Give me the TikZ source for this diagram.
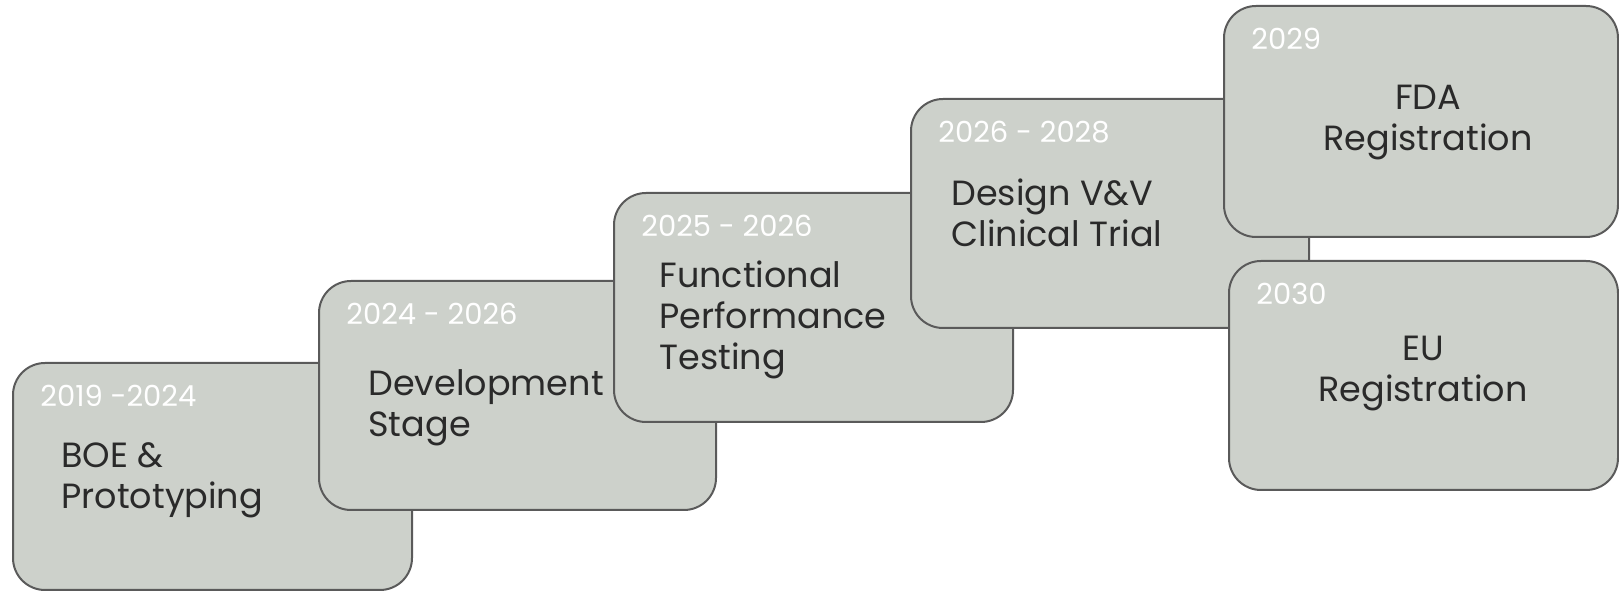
\documentclass[tikz,border=0pt]{standalone}
\usepackage{fontspec}
\setmainfont{Poppins}
\usetikzlibrary{positioning, calc}
\definecolor{boxgray}{HTML}{CDD1CB}
\definecolor{edgegray}{HTML}{5A5A5A}
\definecolor{textdark}{HTML}{2A2A2A}
\tikzset{x=0.5pt, y=-0.5pt, % one unit = one pixel of the layout
        phase/.style={ % the rounded boxes of the time line
            draw=edgegray,
            line width=1pt,
            fill=boxgray,
            rounded corners=16pt,
            anchor=north west,
            inner sep=0pt},
        year/.style={ % white year label in the corner
            text=white,
            font=\fontsize{14.5pt}{17pt}\selectfont,
            anchor=base west,
            inner sep=0pt},
        stage/.style={ % name of the stage (base = last line)
            text=textdark,
            font=\fontsize{17.5pt}{20.5pt}\selectfont,
            align=left,
            anchor=base west,
            inner sep=0pt}
        }

\begin{document}
\begin{tikzpicture}
    \useasboundingbox (0,0) rectangle (1619,592);

    \node[phase, minimum width=199.5pt, minimum height=113.5pt] (b1) at (12,362) {};
    \node[year] (y1) at ([shift={(28,45)}]b1.north west) {2019 -2024};
    \node[stage] (s1) at ([shift={(49,147)}]b1.north west) {BOE \&\\Prototyping};

    \node[phase, minimum width=198.5pt, minimum height=114.5pt] (b2) at (318,280) {};
    \node[year] (y2) at ([shift={(28,45)}]b2.north west) {2024 - 2026};
    \node[stage] (s2) at ([shift={(50,157)}]b2.north west) {Development\\Stage};

    \node[phase, minimum width=199.5pt, minimum height=114.5pt] (b3) at (613,192) {};
    \node[year] (y3) at ([shift={(28,45)}]b3.north west) {2025 - 2026};
    \node[stage] (s3) at ([shift={(46,178)}]b3.north west) {Functional\\Performance\\Testing};

    \node[phase, minimum width=199pt, minimum height=114.5pt] (b4) at (910,98) {};
    \node[year] (y4) at ([shift={(28,45)}]b4.north west) {2026 - 2028};
    \node[stage] (s4) at ([shift={(41,149)}]b4.north west) {Design V\&V\\Clinical Trial};

    \node[phase, minimum width=197pt, minimum height=115.5pt] (b5) at (1223,5) {};
    \node[year] (y5) at ([shift={(28,45)}]b5.north west) {2029};
    \node[stage, align=center, anchor=base] (s5) at ([shift={(205,146)}]b5.north west) {FDA\\Registration};

    \node[phase, minimum width=194.5pt, minimum height=114.5pt] (b6) at (1228,260) {};
    \node[year] (y6) at ([shift={(28,45)}]b6.north west) {2030};
    \node[stage, align=center, anchor=base] (s6) at ([shift={(195,142)}]b6.north west) {EU\\Registration};
\end{tikzpicture}
\end{document}
